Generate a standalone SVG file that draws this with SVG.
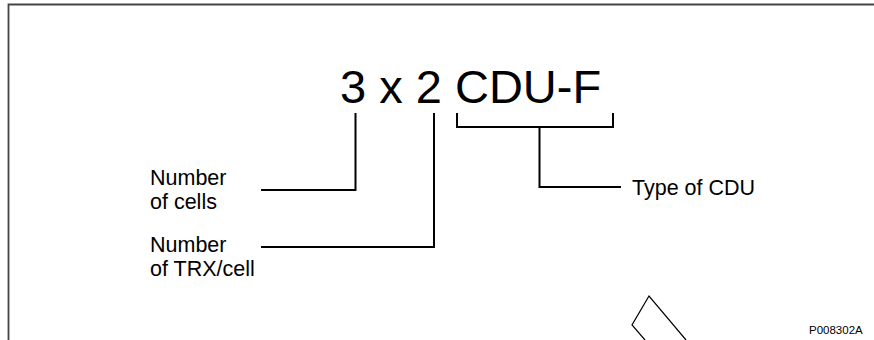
<svg xmlns="http://www.w3.org/2000/svg" width="874" height="340" viewBox="0 0 874 340">
<style>
.t{font-family:"Liberation Sans",Arial,Helvetica,sans-serif;fill:#000}
.lbl{font-size:21.5px}
.ln{fill:none;stroke:#000;stroke-width:2}
</style>
<rect width="874" height="340" fill="#fff"/>
<path d="M8.5 340V4.5H874" fill="none" stroke="#444" stroke-width="1.8"/>
<g id="title"><text class="t" x="340" y="103" font-size="47">3 x 2 CDU-F</text></g>
<g id="cells"><text class="t lbl" x="150" y="185">Number</text><text class="t lbl" x="150" y="209">of cells</text></g>
<g id="trx"><text class="t lbl" x="150" y="252">Number</text><text class="t lbl" x="150" y="276">of TRX/cell</text></g>
<g id="type"><text class="t lbl" x="632" y="195">Type of CDU</text></g>
<g id="connectors">
<path class="ln" d="M355.5 113V190H261"/>
<path class="ln" d="M434 113V247H261"/>
<path class="ln" d="M457 113V127H613V113"/>
<path class="ln" d="M539.5 127V187H621"/>
</g>
<g id="shape"><path d="M686 340L649 296L632 325L645 340" fill="none" stroke="#000" stroke-width="1.2"/></g>
<g id="ref"><text class="t" x="809" y="334" font-size="11.5">P008302A</text></g>
</svg>
